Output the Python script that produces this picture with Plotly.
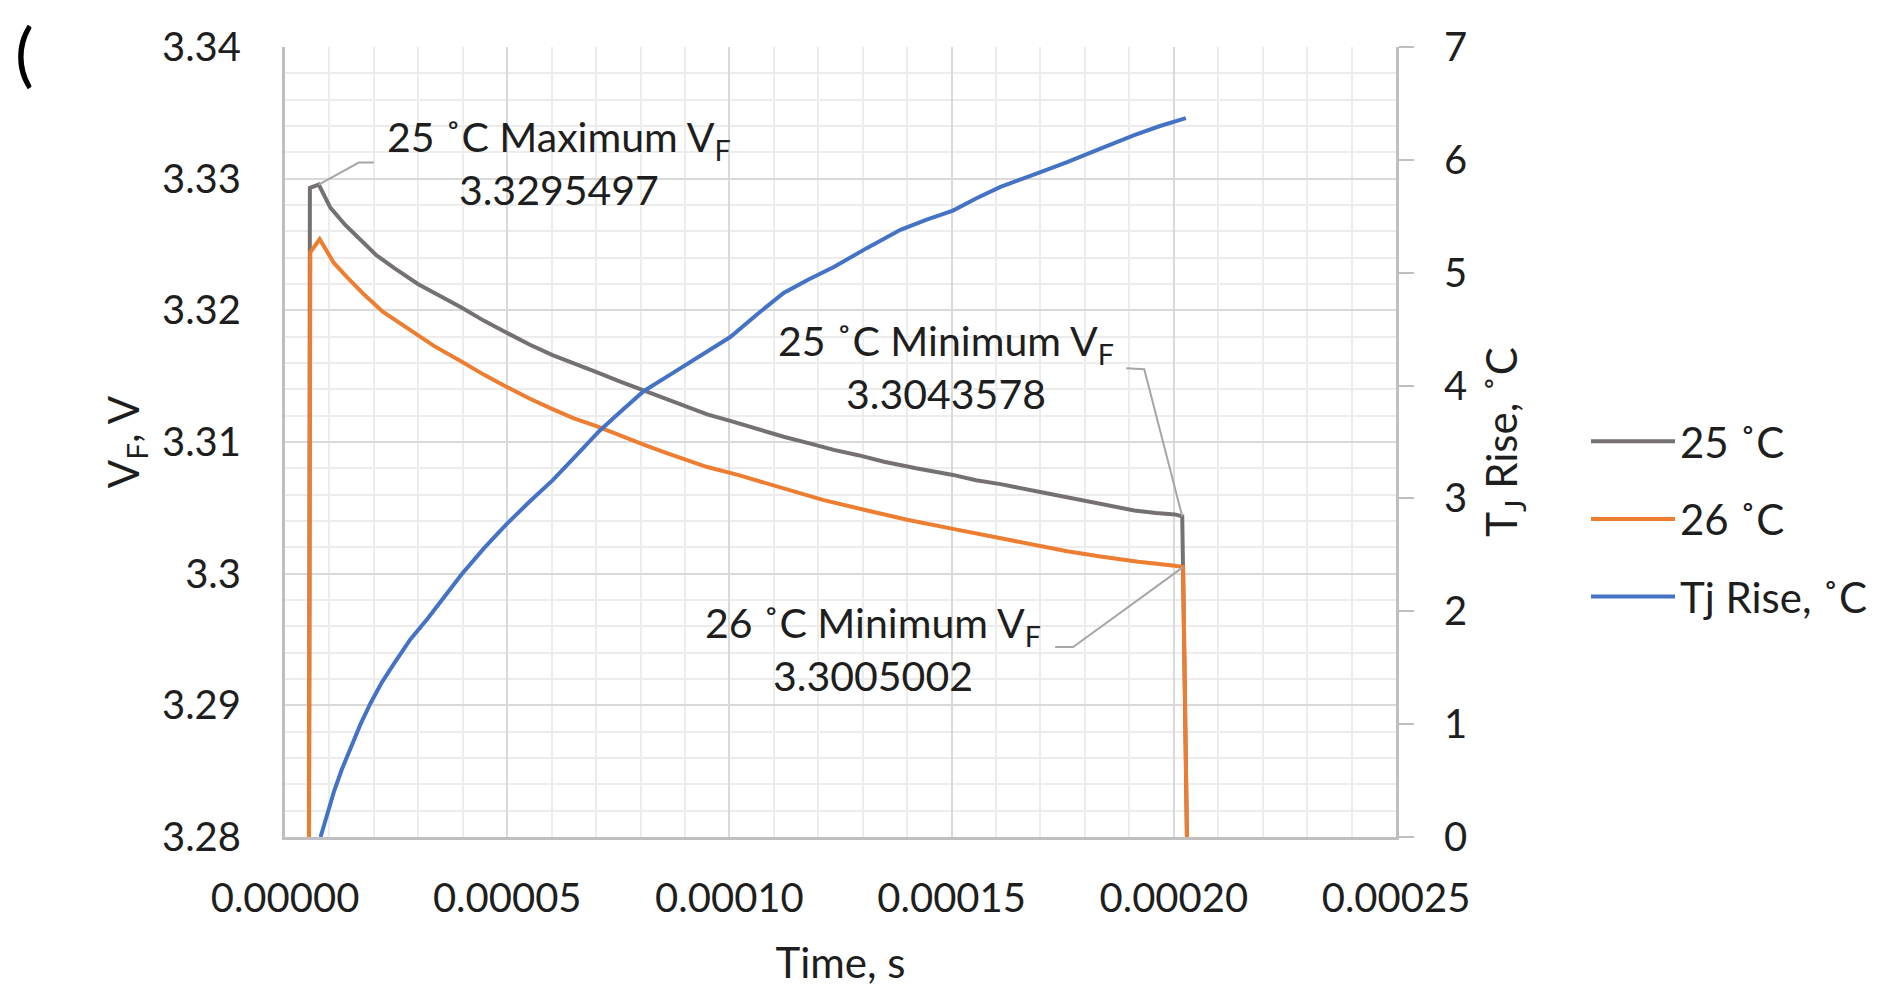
import plotly.graph_objects as go

# ---- data (time in seconds) ----
t_25 = [5.4e-6, 5.6e-6, 7.6e-6, 10.2e-6, 13.5e-6, 17.0e-6, 20.5e-6, 24.6e-6, 29.9e-6, 34.8e-6,
        39.8e-6, 44.8e-6, 49.8e-6, 55.0e-6, 60.2e-6, 65.0e-6, 70.1e-6, 75.3e-6, 80.7e-6, 85.6e-6,
        90.5e-6, 95.0e-6, 100.2e-6, 106.0e-6, 112.2e-6, 118.0e-6, 123.5e-6, 129.0e-6, 134.8e-6,
        142.0e-6, 150.3e-6, 155.5e-6, 161.0e-6, 168.5e-6, 176.0e-6, 183.5e-6, 191.1e-6, 196.0e-6,
        200.2e-6, 201.9e-6, 202.1e-6, 203.0e-6]
vf_25 = [3.2790, 3.3293, 3.3295497, 3.3278, 3.3265, 3.3253, 3.3242, 3.3232, 3.3220, 3.3211,
         3.3202, 3.3192, 3.3183, 3.3174, 3.3166, 3.3160, 3.3153, 3.3146, 3.3139, 3.3133,
         3.3127, 3.3121, 3.3116, 3.3110, 3.3104, 3.3099, 3.3094, 3.3090, 3.3085,
         3.3080, 3.3075, 3.3071, 3.3068, 3.3063, 3.3058, 3.3053, 3.3048, 3.3046,
         3.3045, 3.3043578, 3.3005, 3.2790]

t_26 = [5.4e-6, 5.7e-6, 7.8e-6, 11.0e-6, 14.0e-6, 17.8e-6, 22.0e-6, 27.7e-6, 33.5e-6, 39.8e-6,
        44.8e-6, 49.8e-6, 55.0e-6, 60.2e-6, 65.0e-6, 70.1e-6, 75.3e-6, 80.7e-6, 85.6e-6, 90.5e-6,
        95.0e-6, 101.9e-6, 106.0e-6, 112.2e-6, 121.0e-6, 131.0e-6, 140.0e-6, 150.3e-6, 159.0e-6,
        168.5e-6, 176.0e-6, 183.5e-6, 192.0e-6, 200.2e-6, 202.1e-6, 203.0e-6]
vf_26 = [3.2790, 3.3244, 3.3254, 3.3236, 3.3225, 3.3212, 3.3199, 3.3186, 3.3173, 3.3161,
         3.3151, 3.3142, 3.3133, 3.3125, 3.3118, 3.3112, 3.3105, 3.3098, 3.3092, 3.3086,
         3.3081, 3.3075, 3.3071, 3.3065, 3.3056, 3.3048, 3.3041, 3.3034, 3.3028,
         3.3022, 3.3017, 3.3013, 3.3009, 3.3006, 3.3005002, 3.2790]

t_tj = [8.0e-6, 9.5e-6, 11.0e-6, 12.8e-6, 14.8e-6, 17.0e-6, 19.3e-6, 21.8e-6, 24.6e-6, 28.2e-6,
        32.2e-6, 35.8e-6, 39.8e-6, 44.8e-6, 49.8e-6, 55.0e-6, 60.2e-6, 65.5e-6, 70.8e-6, 75.8e-6,
        80.7e-6, 85.6e-6, 90.5e-6, 95.3e-6, 100.2e-6, 106.2e-6, 112.2e-6, 117.8e-6, 123.5e-6,
        131.0e-6, 138.5e-6, 144.4e-6, 150.3e-6, 155.6e-6, 161.0e-6, 168.5e-6, 176.0e-6,
        183.5e-6, 191.1e-6, 196.9e-6, 202.7e-6]
tj_rise = [0.00, 0.21, 0.40, 0.60, 0.79, 1.00, 1.19, 1.37, 1.54, 1.75,
           1.94, 2.13, 2.33, 2.56, 2.77, 2.97, 3.16, 3.38, 3.60, 3.78,
           3.95, 4.07, 4.19, 4.31, 4.43, 4.63, 4.82, 4.94, 5.05,
           5.22, 5.38, 5.47, 5.55, 5.66, 5.76, 5.87, 5.98,
           6.10, 6.22, 6.30, 6.37]

y_tickvals = [3.28, 3.29, 3.30, 3.31, 3.32, 3.33, 3.34]
y_ticktext = ["3.28", "3.29", "3.3", "3.31", "3.32", "3.33", "3.34"]

max25 = (7.6e-6, 3.3295497)
min25 = (201.9e-6, 3.3043578)
min26 = (202.1e-6, 3.3005002)

FONT = "Lato"
FS_TICK = 40
FS_ANN = 41
FS_TITLE = 42
FS_LEG = 42
TXT = "#1e1e1e"
GRID = "#d9d9d9"
MINOR = "#ececec"
AXL = "#bfbfbf"

# page has an 8px body margin; figure is sized so the page fills 1878x987
W, H = 1870, 979
L, T = 277, 39
PW, PH = 1111, 790
R, B = W - L - PW, H - T - PH

fig = go.Figure()
fig.add_trace(go.Scatter(x=t_25, y=vf_25, mode="lines", name="25 ˚C", legendgroup="a",
                         line=dict(color="#767171", width=4)))
fig.add_trace(go.Scatter(x=t_26, y=vf_26, mode="lines", name="26 ˚C", legendgroup="b",
                         line=dict(color="#ED7D31", width=4)))
fig.add_trace(go.Scatter(x=t_tj, y=tj_rise, mode="lines", name="Tj Rise, ˚C", legendgroup="c",
                         yaxis="y2", line=dict(color="#4472C4", width=4)))

fig.update_layout(
    width=W, height=H,
    margin=dict(l=L, r=R, t=T, b=B, autoexpand=False),
    paper_bgcolor="white", plot_bgcolor="white",
    font=dict(family=FONT, size=FS_TICK, color=TXT),
    xaxis=dict(range=[0, 0.00025], dtick=0.00005, tick0=0, tickformat=".5f",
               showgrid=True, gridcolor=GRID, gridwidth=2,
               minor=dict(dtick=0.00001, tick0=0, showgrid=True, gridcolor=MINOR, gridwidth=2),
               showline=True, linecolor=AXL, linewidth=3, zeroline=False, ticks="",
               ticklabelstandoff=24, automargin=False,
               title=dict(text="Time, s", font=dict(size=FS_TITLE), standoff=35)),
    yaxis=dict(range=[3.28, 3.34], tickvals=y_tickvals, ticktext=y_ticktext,
               showgrid=True, gridcolor=GRID, gridwidth=2,
               minor=dict(dtick=0.002, tick0=3.28, showgrid=True, gridcolor=MINOR, gridwidth=2),
               showline=True, linecolor=AXL, linewidth=3, zeroline=False, ticks="",
               ticklabelstandoff=33, automargin=False,
               title=dict(text="V<sub>F</sub>, V", font=dict(size=FS_TITLE), standoff=10)),
    yaxis2=dict(range=[0, 7], dtick=1, overlaying="y", side="right",
                showgrid=False, zeroline=False, showline=True, linecolor=AXL, linewidth=3,
                ticks="outside", ticklen=15, tickwidth=2, tickcolor=AXL,
                ticklabelstandoff=22, automargin=False,
                title=dict(text="T<sub>J</sub> Rise, ˚C", font=dict(size=FS_TITLE), standoff=22)),
    legend=dict(xref="container", yref="container", x=1578 / W, y=1 - 511 / H,
                xanchor="left", yanchor="middle",
                font=dict(size=FS_LEG), itemwidth=84, tracegroupgap=20,
                bgcolor="rgba(0,0,0,0)"),
    showlegend=True,
)

lead = dict(color="#a6a6a6", width=2)
fig.add_shape(type="path", xref="x", yref="y", xsizemode="pixel", ysizemode="pixel",
              xanchor=max25[0], yanchor=max25[1], path="M0,0 L40,22 L55,22", line=lead)
fig.add_shape(type="path", xref="x", yref="y", xsizemode="pixel", ysizemode="pixel",
              xanchor=min25[0], yanchor=min25[1], path="M0,0 L-38,147 L-56,148", line=lead)
fig.add_shape(type="path", xref="x", yref="y", xsizemode="pixel", ysizemode="pixel",
              xanchor=min26[0], yanchor=min26[1], path="M0,0 L-110,-80 L-128,-80", line=lead)

clear = "rgba(0,0,0,0)"
fig.add_annotation(x=max25[0], y=max25[1], xref="x", yref="y",
                   text="25 ˚C Maximum V<sub>F</sub><br>3.3295497",
                   showarrow=True, arrowcolor=clear, ax=240, ay=-22, font=dict(size=FS_ANN))
fig.add_annotation(x=min25[0], y=min25[1], xref="x", yref="y",
                   text="25 ˚C Minimum V<sub>F</sub><br>3.3043578",
                   showarrow=True, arrowcolor=clear, ax=-236, ay=-149, font=dict(size=FS_ANN))
fig.add_annotation(x=min26[0], y=min26[1], xref="x", yref="y",
                   text="26 ˚C Minimum V<sub>F</sub><br>3.3005002",
                   showarrow=True, arrowcolor=clear, ax=-310, ay=82, font=dict(size=FS_ANN))

fig.add_annotation(x=(5 - L) / PW, y=(PH + T) / PH, xref="paper", yref="paper",
                   xanchor="left", yanchor="top", text="(", showarrow=False,
                   font=dict(size=70, color="#000000"))

fig.write_html("out.html")
